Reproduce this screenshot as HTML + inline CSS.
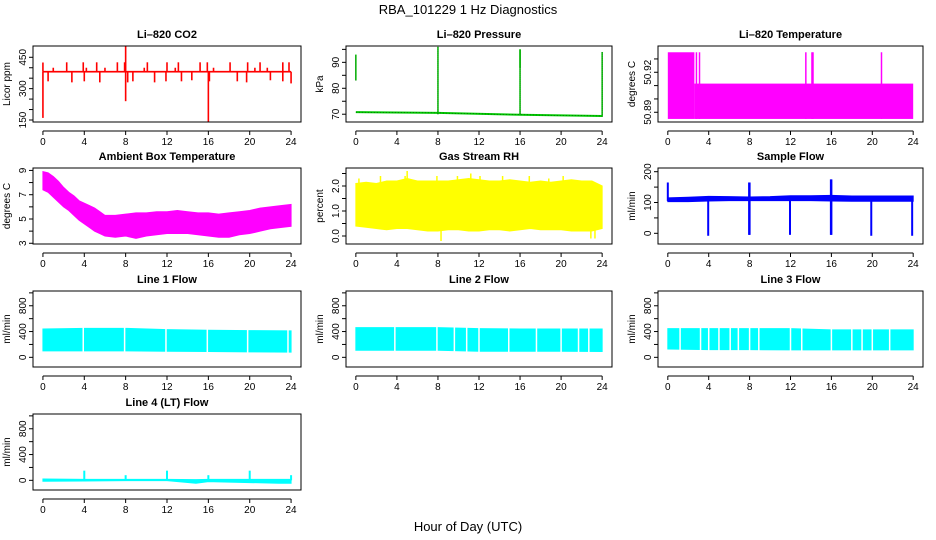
<!DOCTYPE html>
<html><head><meta charset="utf-8"><style>
html,body{margin:0;padding:0;background:#fff}
svg{display:block;font-family:"Liberation Sans",Arial,sans-serif}
</style></head><body>
<svg id="chart" width="936" height="540" viewBox="0 0 936 540" xmlns="http://www.w3.org/2000/svg">
<text x="468" y="14" text-anchor="middle" font-size="13">RBA_101229  1 Hz Diagnostics</text>
<text x="468" y="531" text-anchor="middle" font-size="13">Hour of Day (UTC)</text>
</svg>
<script>
// ---- data arrays ----
const xTicks = [0,4,8,12,16,20,24];
const co2Base = 381;
const co2SpikeHours = [0,0,0.5,1,2.3,2.8,3.9,4,4.2,5.2,5.5,6,7.2,7.9,8,8,8.2,8.7,9.8,10.1,10.8,11.9,12,12.8,13.1,13.4,14.4,15.2,15.9,16,16.1,16.5,18.1,18.8,19.7,19.8,20.5,21,21.7,22,23.2,23.2,23.8,24];
const co2SpikeVals  = [160,425,335,400,426,330,426,335,400,426,330,400,426,426,505,240,330,335,400,426,330,335,426,400,426,335,340,426,426,140,335,400,426,335,330,426,400,426,400,340,426,335,426,325];
const presHours = [0,8,16,24];
const presBase  = [70.8,70.5,69.8,69.3];
const presSpikeHours = [0,8,16,16,24];
const presSpikeLo    = [83,70,70,88,69];
const presSpikeHi    = [93,96,95,95,94];
const ltempStepHours = [0,2.6,24];
const ltempTop = [50.935,50.9115];
const ltempBottom = 50.885;
const ltempSpikeHours = [2.8,3.1,13.5,14.1,14.2,20.9];
const ltempSpikeTop = 50.935;
const ambHours = [0,0.5,1,1.5,2,2.5,3,3.5,4,4.5,5,5.5,6,7,8,9,10,11,12,13,14,15,16,17,18,19,20,21,22,23,24];
const ambLo = [7.4,7.2,6.8,6.4,6.0,5.7,5.3,4.9,4.6,4.3,4.0,3.8,3.6,3.5,3.6,3.4,3.6,3.7,3.8,3.8,3.8,3.7,3.6,3.5,3.5,3.7,3.8,4.0,4.2,4.3,4.4];
const ambHi = [8.9,8.8,8.5,8.1,7.6,7.2,6.9,6.5,6.3,6.1,5.9,5.6,5.3,5.3,5.4,5.5,5.5,5.6,5.6,5.7,5.6,5.5,5.5,5.4,5.5,5.6,5.7,5.9,6.0,6.1,6.2];
const rhHours = [0,1,2,3,4,5,6,7,8,9,10,11,12,13,14,15,16,17,18,19,20,21,22,23,24];
const rhLo = [0.4,0.35,0.3,0.25,0.3,0.3,0.25,0.2,0.2,0.25,0.25,0.2,0.2,0.25,0.25,0.2,0.25,0.3,0.25,0.25,0.25,0.2,0.2,0.2,0.3];
const rhHi = [2.1,2.15,2.1,2.2,2.2,2.3,2.2,2.2,2.2,2.2,2.25,2.3,2.25,2.2,2.2,2.25,2.2,2.15,2.2,2.15,2.2,2.25,2.2,2.2,2.0];
const rhSpikeHours = [0.3,2.4,4.8,5.0,7.9,8.3,9.9,11.2,12.1,14.3,16.9,18.8,20.2,22.9,23.3];
const rhSpikeVals  = [2.3,2.4,2.4,2.6,2.4,-0.2,2.4,2.5,2.4,2.4,2.4,2.3,2.4,-0.1,-0.1];
const sfHours = [0,2,4,6,8,10,12,14,16,18,20,22,24];
const sfLo = [103,103,105,106,106,106,106,106,105,104,104,104,104];
const sfHi = [115,117,120,119,118,119,122,122,123,121,121,121,121];
const sfSpikeHours = [0,3.95,7.95,8,11.95,15.95,16,19.9,23.9];
const sfSpikeLo = [105,-8,-5,-5,-5,-5,-5,-8,-8];
const sfSpikeHi = [165,110,165,165,110,175,175,110,110];
const l1Hours = [0,4,8,12,16,20,24];
const l1Lo = [100,100,100,95,90,85,80];
const l1Hi = [440,450,450,430,420,415,410];
const l1Gaps = [3.9,7.9,11.9,15.9,19.8,23.7];
const l2Hours = [0,4,8,12,16,20,24];
const l2Lo = [110,110,110,95,95,95,90];
const l2Hi = [460,460,460,445,440,440,440];
const l2Gaps = [3.8,7.9,9.6,10.8,12,14.9,17.6,20,21.7,22.7];
const l3Hours = [0,4,8,12,16,20,24];
const l3Lo = [130,120,120,115,115,115,115];
const l3Hi = [445,445,445,445,425,425,425];
const l3Gaps = [1.2,3.2,4,5,6.1,6.9,8,8.9,12,13.1,16,18,19,20,21.7];
const l4Hours = [0,4,8,12,14.8,16,22.8,24];
const l4Lo = [-15,-10,-5,-5,-45,-20,-45,-45];
const l4Hi = [20,15,15,15,10,15,15,15];
const l4SpikeHours = [4,8,12,16,20,24];
const l4SpikeVals  = [150,80,150,80,150,80];

// ---- layout ----
const NS = "http://www.w3.org/2000/svg";
const svg = document.getElementById('chart');
const cols = [{L:33,W:268},{L:346,W:266},{L:658,W:265}];
const rows = [{T:46,B:122},{T:168,B:244},{T:291,B:367},{T:414,B:490}];
function mk(tag, attrs, parent){
  const e = document.createElementNS(NS, tag);
  for (const k in attrs) e.setAttribute(k, attrs[k]);
  (parent||svg).appendChild(e);
  return e;
}
function panel(ci, ri, name, title, ylab, ylim, ticks, labels, draw){
  const c = cols[ci], r = rows[ri];
  const g = mk('g', {});
  
  
  const sx = h => c.L + c.W*0.04/1.08 + h*(c.W/1.08)/24;
  const sy = v => r.B - (v - ylim[0])/(ylim[1]-ylim[0])*(r.B - r.T);
  const clipId = 'clip-' + name;
  const cp = mk('clipPath', {id: clipId}, g);
  mk('rect', {x:c.L, y:r.T, width:c.W, height:r.B-r.T}, cp);
  const dg = mk('g', {'clip-path':'url(#'+clipId+')'}, g);
  
  
  draw(dg, sx, sy);
  const box = mk('rect', {x:c.L, y:r.T, width:c.W, height:r.B-r.T, fill:'none', stroke:'#000', 'stroke-width':1}, g);
  
  
  const t = mk('text', {x:c.L+c.W/2, y:r.T-8, 'text-anchor':'middle', 'font-size':11, 'font-weight':'bold'}, g);
  t.textContent = title;
  
  
  const ay = r.B + 9;
  const xa = mk('g', {}, g);
  
  
  mk('line', {x1:sx(0), x2:sx(24), y1:ay, y2:ay, stroke:'#000'}, xa);
  xTicks.forEach(h => {
    mk('line', {x1:sx(h), x2:sx(h), y1:ay, y2:ay+4, stroke:'#000'}, xa);
    const tl = mk('text', {x:sx(h), y:ay+14, 'text-anchor':'middle', 'font-size':10}, xa);
    tl.textContent = h;
  });
  const ya = mk('g', {}, g);
  
  
  mk('line', {x1:c.L, x2:c.L, y1:sy(ticks[0]), y2:sy(ticks[ticks.length-1]), stroke:'#000'}, ya);
  ticks.forEach(v => mk('line', {x1:c.L-4, x2:c.L, y1:sy(v), y2:sy(v), stroke:'#000'}, ya));
  labels.forEach(lab => {
    const v = parseFloat(lab);
    const x = c.L - 7, y = sy(v);
    const tl = mk('text', {x:x, y:y, 'text-anchor':'middle', 'font-size':10, transform:'rotate(-90 '+x+' '+y+')'}, ya);
    tl.textContent = lab;
  });
  const yx = c.L - 23, yy = (r.T + r.B)/2;
  const yt = mk('text', {x:yx, y:yy, 'text-anchor':'middle', 'font-size':10, transform:'rotate(-90 '+yx+' '+yy+')'}, g);
  yt.textContent = ylab;
  
  
}
function seg(g, x, y1, y2, col, w){ return mk('line', {x1:x, x2:x, y1:y1, y2:y2, stroke:col, 'stroke-width':w||1}, g); }
function band(g, sx, sy, hours, lo, hi, col){
  const up = hours.map((h,i)=>sx(h)+','+sy(hi[i]));
  const dn = hours.map((h,i)=>sx(h)+','+sy(lo[i])).reverse();
  const p = mk('polygon', {points: up.concat(dn).join(' '), fill:col, stroke:col, 'stroke-width':1}, g);
  
  
}

panel(0,0,'co2-panel','Li\u2013820 CO2','Licor ppm',[140.4,504],[150,200,250,300,350,400,450],['150','300','450'],(g,sx,sy)=>{
  mk('rect',{x:sx(0),y:sy(co2Base+4),width:sx(24)-sx(0),height:sy(co2Base-4)-sy(co2Base+4),fill:'#f00'},g);
  co2SpikeHours.forEach((h,i)=>{ const b = seg(g, sx(h), sy(co2Base), sy(co2SpikeVals[i]), '#f00', 1.6);
     });
});
panel(1,0,'pressure-panel','Li\u2013820 Pressure','kPa',[67.0,96.3],[70,75,80,85,90,95],['70','80','90'],(g,sx,sy)=>{
  const pts = presHours.map((h,i)=>sx(h)+','+sy(presBase[i])).join(' ');
  mk('polyline',{points:pts,fill:'none',stroke:'#00c800','stroke-width':2},g);
  mk('polyline',{points:pts,fill:'none',stroke:'#005000','stroke-width':0.6,'stroke-dasharray':'1 2'},g);
  presSpikeHours.forEach((h,i)=>{ seg(g,sx(h),sy(presSpikeLo[i]),sy(presSpikeHi[i]),'#00c800',1.5);
    seg(g,sx(h),sy(presSpikeLo[i]),sy(presSpikeHi[i]),'#004000',0.6).setAttribute('stroke-dasharray','1 1'); });
});
panel(2,0,'li-temperature-panel','Li\u2013820 Temperature','degrees C',[50.8827,50.9397],[50.89,50.9,50.91,50.92,50.93],['50.89','50.92'],(g,sx,sy)=>{
  for (let i=0;i<ltempTop.length;i++)
    mk('rect',{x:sx(ltempStepHours[i]),y:sy(ltempTop[i]),width:sx(ltempStepHours[i+1])-sx(ltempStepHours[i]),height:sy(ltempBottom)-sy(ltempTop[i]),fill:'#f0f'},g);
  ltempSpikeHours.forEach(h=>seg(g,sx(h),sy(ltempBottom),sy(ltempSpikeTop),'#f0f',1.5));
});
panel(0,1,'ambient-temperature-panel','Ambient Box Temperature','degrees C',[2.94,9.2],[3,4,5,6,7,8,9],['3','5','7','9'],(g,sx,sy)=>{
  band(g,sx,sy,ambHours,ambLo,ambHi,'#f0f');
});
panel(1,1,'gas-rh-panel','Gas Stream RH','percent',[-0.32,2.72],[0,0.5,1,1.5,2,2.5],['0.0','1.0','2.0'],(g,sx,sy)=>{
  band(g,sx,sy,rhHours,rhLo,rhHi,'#ff0');
  rhSpikeHours.forEach((h,i)=>seg(g,sx(h),sy(1),sy(rhSpikeVals[i]),'#ff0',1.5));
});
panel(2,1,'sample-flow-panel','Sample Flow','ml/min',[-34.7,212],[0,50,100,150,200],['0','100','200'],(g,sx,sy)=>{
  band(g,sx,sy,sfHours,sfLo,sfHi,'#00f');
  sfSpikeHours.forEach((h,i)=>seg(g,sx(h),sy(sfSpikeLo[i]),sy(sfSpikeHi[i]),'#00f',2));
});
function flowPanel(ci,ri,name,title,hours,lo,hi,gaps){
  panel(ci,ri,name,title,'ml/min',[-150,1029],[0,200,400,600,800,1000],['0','400','800'],(g,sx,sy)=>{
    band(g,sx,sy,hours,lo,hi,'#0ff');
    gaps.forEach(h=>seg(g,sx(h),sy(1100),sy(-200),'#fff',1.5));
  });
}
flowPanel(0,2,'line1-flow-panel','Line 1 Flow',l1Hours,l1Lo,l1Hi,l1Gaps);
flowPanel(1,2,'line2-flow-panel','Line 2 Flow',l2Hours,l2Lo,l2Hi,l2Gaps);
flowPanel(2,2,'line3-flow-panel','Line 3 Flow',l3Hours,l3Lo,l3Hi,l3Gaps);
panel(0,3,'line4-flow-panel','Line 4 (LT) Flow','ml/min',[-150,1029],[0,200,400,600,800,1000],['0','400','800'],(g,sx,sy)=>{
  band(g,sx,sy,l4Hours,l4Lo,l4Hi,'#0ff');
  l4SpikeHours.forEach((h,i)=>seg(g,sx(h),sy(0),sy(l4SpikeVals[i]),'#0ff',2));
});
</script>
</body></html>
